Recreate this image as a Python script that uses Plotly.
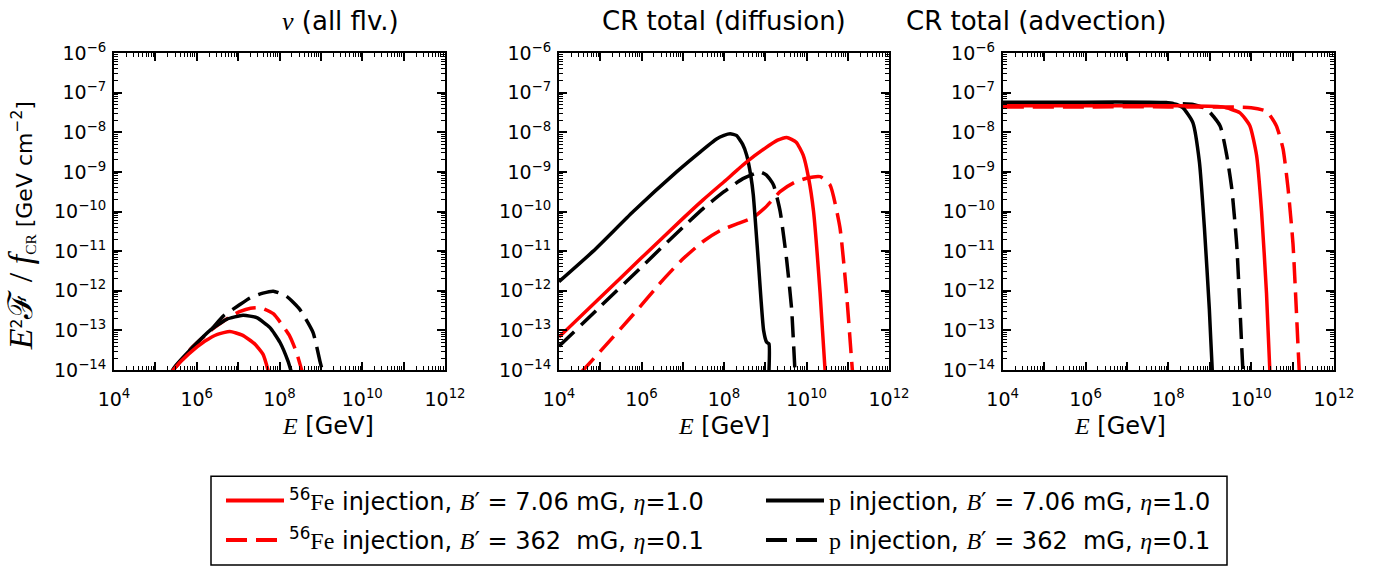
import plotly.graph_objects as go

# ---------------- tick labels ----------------
x_tick_exp = [4, 5, 6, 7, 8, 9, 10, 11, 12]
x_tick_text = ["10<sup>4</sup>", "", "10<sup>6</sup>", "", "10<sup>8</sup>", "",
               "10<sup>10</sup>", "", "10<sup>12</sup>"]
y_tick_exp = [-14, -13, -12, -11, -10, -9, -8, -7, -6]
y_tick_text = ["10<sup>\u221214</sup>", "10<sup>\u221213</sup>", "10<sup>\u221212</sup>",
               "10<sup>\u221211</sup>", "10<sup>\u221210</sup>", "10<sup>\u22129</sup>",
               "10<sup>\u22128</sup>", "10<sup>\u22127</sup>", "10<sup>\u22126</sup>"]

SERIF = "Liberation Serif"
panel_titles = [f"<i style='font-family:{SERIF}'>\u03bd</i> (all flv.)",
                "CR total (diffusion)", "CR total (advection)"]

# ---------------- data (log10 E [GeV], log10 E^2 F / f_CR) ----------------
# Panel 1: neutrinos
nu_fe_b7_logE = [5.3, 5.43, 5.8, 6.2, 6.5, 6.8, 7.1, 7.4, 7.6, 7.72, 7.8]
nu_fe_b7_logF = [-14.2, -14.0, -13.6, -13.27, -13.1, -13.03, -13.12, -13.34, -13.6, -14.0, -14.4]
nu_p_b7_logE = [5.3, 5.47, 5.91, 6.32, 6.72, 7.12, 7.45, 7.77, 8.01, 8.21, 8.3]
nu_p_b7_logF = [-14.2, -13.92, -13.42, -13.0, -12.72, -12.62, -12.68, -12.93, -13.3, -13.79, -14.1]
nu_fe_b362_logE = [5.35, 5.9, 6.4, 6.8, 7.05, 7.3, 7.55, 7.85, 8.05, 8.25, 8.41, 8.55, 8.6]
nu_fe_b362_logF = [-14.1, -13.42, -12.95, -12.66, -12.52, -12.44, -12.43, -12.58, -12.84, -13.15, -13.55, -14.05, -14.2]
nu_p_b362_logE = [5.35, 5.9, 6.35, 6.64, 7.0, 7.29, 7.6, 7.85, 8.17, 8.49, 8.81, 8.98, 9.08]
nu_p_b362_logF = [-14.1, -13.42, -12.98, -12.64, -12.38, -12.18, -12.06, -12.01, -12.14, -12.47, -13.05, -13.79, -14.2]

# Panel 2: CR total (diffusion)
dif_fe_b7_logE = [4.0, 5.0, 6.0, 7.0, 7.5, 8.0, 8.55, 9.0, 9.3, 9.52, 9.75, 9.92, 10.05, 10.17, 10.33, 10.45, 10.5]
dif_fe_b7_logF = [-13.17, -12.17, -11.17, -10.18, -9.7, -9.25, -8.75, -8.4, -8.2, -8.13, -8.25, -8.58, -9.15, -9.99, -12.06, -14.0, -14.5]
dif_p_b7_logE = [4.0, 4.83, 5.8, 6.85, 7.42, 7.82, 8.0, 8.15, 8.3, 8.45, 8.55, 8.65, 8.71, 8.83, 8.96, 9.035, 9.09, 9.08]
dif_p_b7_logF = [-11.77, -11.0, -10.0, -9.0, -8.5, -8.17, -8.08, -8.04, -8.08, -8.3, -8.58, -9.1, -9.58, -11.23, -13.0, -13.3, -13.34, -14.3]
dif_fe_b362_logE = [4.5, 4.59, 5.0, 5.8, 6.5, 7.0, 7.5, 7.91, 8.3, 8.71, 9.0, 9.36, 9.7, 10.0, 10.33, 10.57, 10.81, 10.97, 11.09, 11.15]
dif_fe_b362_logF = [-14.1, -14.0, -13.53, -12.6, -11.75, -11.2, -10.75, -10.48, -10.32, -10.15, -9.9, -9.5, -9.27, -9.16, -9.12, -9.33, -10.4, -12.06, -13.71, -14.5]
dif_p_b362_logE = [4.0, 5.0, 6.0, 7.0, 7.5, 8.0, 8.46, 8.87, 9.03, 9.2, 9.36, 9.52, 9.64, 9.72, 9.76]
dif_p_b362_logF = [-13.4, -12.4, -11.4, -10.4, -9.92, -9.5, -9.17, -9.0, -9.08, -9.33, -9.99, -11.23, -12.47, -14.0, -14.5]

# Panel 3: CR total (advection)
adv_fe_b7_logE = [4.0, 6.0, 8.0, 9.3, 9.73, 9.97, 10.13, 10.25, 10.37, 10.45, 10.49]
adv_fe_b7_logF = [-7.33, -7.33, -7.33, -7.36, -7.51, -7.84, -8.58, -9.99, -12.06, -14.0, -14.5]
adv_p_b7_logE = [4.0, 6.0, 7.5, 7.95, 8.2, 8.35, 8.59, 8.75, 8.87, 8.99, 9.06, 9.1]
adv_p_b7_logF = [-7.24, -7.24, -7.24, -7.25, -7.3, -7.38, -7.75, -8.75, -10.4, -12.47, -14.0, -14.5]
adv_fe_b362_logE = [4.0, 6.0, 8.0, 10.0, 10.37, 10.61, 10.77, 10.89, 11.01, 11.09, 11.16, 11.2]
adv_fe_b362_logF = [-7.36, -7.36, -7.36, -7.38, -7.47, -7.84, -8.42, -9.41, -10.82, -12.47, -14.0, -14.5]
adv_p_b362_logE = [4.0, 6.0, 8.0, 8.6, 8.93, 9.25, 9.41, 9.53, 9.65, 9.73, 9.8, 9.84]
adv_p_b362_logF = [-7.26, -7.26, -7.27, -7.3, -7.42, -7.84, -8.58, -9.41, -10.82, -12.47, -14.0, -14.5]


def m(s):
    return f"<i style='font-family:{SERIF}'>{s}</i>"


def rm(s):
    return f"<span style='font-family:{SERIF}'>{s}</span>"


legend_names = {
    "fe_b7": f"<sup>56</sup>{rm('Fe')} injection, {m('B')}\u2032 = 7.06 mG, {m('\u03b7')}=1.0",
    "p_b7": f"{rm('p')} injection, {m('B')}\u2032 = 7.06 mG, {m('\u03b7')}=1.0",
    "fe_b362": f"<sup>56</sup>{rm('Fe')} injection, {m('B')}\u2032 = 362 \u00a0mG, {m('\u03b7')}=0.1",
    "p_b362": f"{rm('p')} injection, {m('B')}\u2032 = 362 \u00a0mG, {m('\u03b7')}=0.1",
}
DASH = "21px,9px"
styles = {
    "fe_b7": dict(color="#ff0000", dash="solid", legend="legend"),
    "p_b7": dict(color="#000000", dash="solid", legend="legend"),
    "fe_b362": dict(color="#ff0000", dash=DASH, legend="legend2"),
    "p_b362": dict(color="#000000", dash=DASH, legend="legend2"),
}

panels = [
    {"fe_b7": (nu_fe_b7_logE, nu_fe_b7_logF), "p_b7": (nu_p_b7_logE, nu_p_b7_logF),
     "fe_b362": (nu_fe_b362_logE, nu_fe_b362_logF), "p_b362": (nu_p_b362_logE, nu_p_b362_logF)},
    {"fe_b7": (dif_fe_b7_logE, dif_fe_b7_logF), "p_b7": (dif_p_b7_logE, dif_p_b7_logF),
     "fe_b362": (dif_fe_b362_logE, dif_fe_b362_logF), "p_b362": (dif_p_b362_logE, dif_p_b362_logF)},
    {"fe_b7": (adv_fe_b7_logE, adv_fe_b7_logF), "p_b7": (adv_p_b7_logE, adv_p_b7_logF),
     "fe_b362": (adv_fe_b362_logE, adv_fe_b362_logF), "p_b362": (adv_p_b362_logE, adv_p_b362_logF)},
]
draw_order = ["p_b362", "fe_b362", "p_b7", "fe_b7"]
legend_order = ["fe_b7", "p_b7", "fe_b362", "p_b362"]

W, H = 1383, 575
L, R, T, B = 114, 49, 53, 200
plot_w = W - L - R          # 1220
plot_h = H - T - B          # 322
domains = [(0.0, 331 / plot_w), (445 / plot_w, 775 / plot_w), (888.7 / plot_w, 1.0)]


def px_x(page_x):
    return (page_x - L) / plot_w


def px_y(page_y):
    return (H - B - page_y) / plot_h


fig = go.Figure()
for i, pdata in enumerate(panels):
    xa = "x" if i == 0 else f"x{i + 1}"
    ya = "y" if i == 0 else f"y{i + 1}"
    for key in draw_order:
        lx, ly = pdata[key]
        st = styles[key]
        fig.add_trace(go.Scatter(
            x=[10 ** v for v in lx], y=[10 ** v for v in ly],
            mode="lines", xaxis=xa, yaxis=ya,
            line=dict(color=st["color"], width=3.5, dash=st["dash"], shape="spline", smoothing=0.5),
            name=legend_names[key], showlegend=False, hoverinfo="skip",
        ))

for key in legend_order:
    st = styles[key]
    fig.add_trace(go.Scatter(
        x=[None], y=[None], mode="lines", xaxis="x2", yaxis="y2",
        line=dict(color=st["color"], width=4, dash=st["dash"]),
        name=legend_names[key], showlegend=True, legend=st["legend"],
    ))

TICKFONT = dict(family="DejaVu Sans", size=19, color="black")
axis_common = dict(
    type="log", showgrid=False, zeroline=False, showline=True, linecolor="black", linewidth=2,
    mirror="allticks", ticks="inside", ticklen=8, tickwidth=1.5, tickcolor="black",
    minor=dict(ticks="inside", ticklen=4, tickwidth=1, tickcolor="black", dtick="D1", showgrid=False),
)
layout = dict(
    width=W, height=H, margin=dict(l=L, r=R, t=T, b=B),
    paper_bgcolor="white", plot_bgcolor="white",
    font=dict(family="DejaVu Sans", color="black", size=18),
    annotations=[], shapes=[],
)
for i in range(3):
    xk = "xaxis" if i == 0 else f"xaxis{i + 1}"
    yk = "yaxis" if i == 0 else f"yaxis{i + 1}"
    ya_name = "y" if i == 0 else f"y{i + 1}"
    xa_name = "x" if i == 0 else f"x{i + 1}"
    layout[xk] = dict(axis_common, domain=list(domains[i]), anchor=ya_name,
                      range=[4, 12], tickmode="array", ticklabelstandoff=11,
                      tickvals=[10 ** v for v in x_tick_exp], ticktext=x_tick_text)
    layout[yk] = dict(axis_common, domain=[0, 1], anchor=xa_name,
                      range=[-14, -6], tickmode="array", ticklabelstandoff=2,
                      tickvals=[10 ** v for v in y_tick_exp], ticktext=y_tick_text)
    cx = (domains[i][0] + domains[i][1]) / 2
    layout["annotations"].append(dict(
        text=panel_titles[i], xref="paper", yref="paper", x=cx, y=px_y(21), yanchor="middle",
        showarrow=False, font=dict(size=26, family="DejaVu Sans")))
    layout["annotations"].append(dict(
        text=f"<i style='font-family:{SERIF}'>E</i> [GeV]", xref="paper", yref="paper",
        x=cx, y=px_y(432), yanchor="middle", showarrow=False,
        font=dict(size=24, family="DejaVu Sans")))

MATH = f"font-family:{SERIF};font-size:34px"
layout["annotations"].append(dict(
    text=(f"<span style='{MATH}'><i>E</i></span><sup>2</sup><span style='{MATH}'>\u2131 / <i>f</i></span>"
          f"<sub style='font-family:{SERIF}'>CR</sub>"
          f" [GeV cm<sup>\u22122</sup>]"),
    xref="paper", yref="paper", x=px_x(21), y=px_y(229),
    xanchor="center", yanchor="middle", textangle=-90, showarrow=False,
    font=dict(size=22, family="DejaVu Sans")))

# legend frame
layout["shapes"].append(dict(
    type="rect", xref="paper", yref="paper",
    x0=px_x(211), x1=px_x(1227), y0=px_y(573), y1=px_y(483),
    line=dict(color="black", width=1.5), fillcolor="rgba(0,0,0,0)"))

leg_common = dict(orientation="h", xanchor="left", yanchor="middle", bgcolor="rgba(0,0,0,0)",
                  borderwidth=0, font=dict(size=24, family="DejaVu Sans", color="black"),
                  entrywidth=467, entrywidthmode="pixels", itemwidth=58)
layout["legend"] = dict(leg_common, x=px_x(221), y=px_y(508))
layout["legend2"] = dict(leg_common, x=px_x(221), y=px_y(548))

fig.update_layout(**layout)
fig.update_xaxes(tickfont=TICKFONT)
fig.update_yaxes(tickfont=TICKFONT)
fig.write_html("out.html", config={"displayModeBar": False},
               post_script="document.body.style.margin='0px';")
